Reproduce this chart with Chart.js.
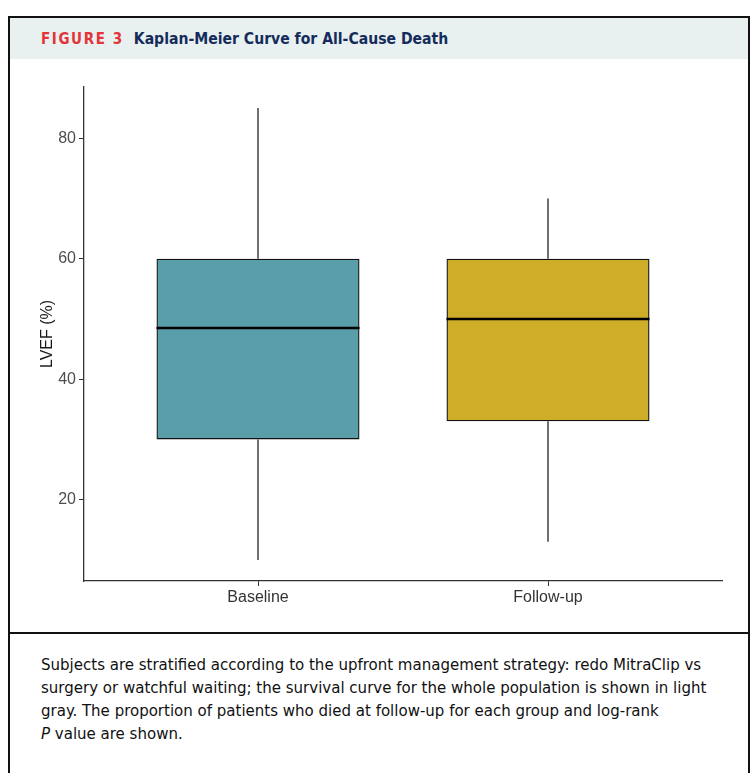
<!DOCTYPE html>
<html>
<head>
<meta charset="utf-8">
<script src="https://cdn.jsdelivr.net/npm/chart.js@4.4.1/dist/chart.umd.min.js"></script>
<style>
  body { margin: 0; background: #fff; }
  #frame {
    position: absolute; left: 8px; top: 16px; width: 738px; height: 780px;
    border: 2px solid #111; box-sizing: content-box;
  }
  #head {
    height: 41px; background: #e8f1f0;
    font-family: "Liberation Sans Narrow", "DejaVu Sans Condensed", sans-serif;
    font-weight: bold; line-height: 41px; padding-left: 31px; white-space: nowrap;
  }
  #head .fig { color: #e3343a; font-size: 15px; letter-spacing: 1.6px; margin-right: 10px; }
  #head .ttl { color: #152c5b; font-size: 15.6px; }
  #plot { position: absolute; left: 0; top: 42px; width: 738px; height: 572px; }
  #cap {
    position: absolute; left: 0; top: 614px; width: 738px; border-top: 2px solid #111;
    font-family: "Liberation Sans Narrow", "DejaVu Sans Condensed", sans-serif;
    font-size: 16.7px; line-height: 23px; color: #111; padding: 19px 14px 0 31px; box-sizing: border-box;
  }
</style>
</head>
<body>
<div id="frame">
  <div id="head"><span class="fig">FIGURE 3</span><span class="ttl">Kaplan-Meier Curve for All-Cause Death</span></div>
  <div id="plot"><canvas id="box-chart"></canvas></div>
  <div id="cap">Subjects are stratified according to the upfront management strategy: redo MitraClip vs surgery or watchful waiting; the survival curve for the whole population is shown in light gray. The proportion of patients who died at follow-up for each group and log-rank<br><i>P</i> value are shown.</div>
</div>
<script>
// Box plot data (LVEF %)
const groups = ["Baseline", "Follow-up"];
const lowWhisker = [10, 13];
const q1 = [30, 33];
const median = [48.5, 50];
const q3 = [60, 60];
const highWhisker = [85, 70];
const yTicks = [20, 40, 60, 80];
const boxColors = ["#5a9eaa", "#cead29"];
const boxWidth = 0.7;

const datasets = [];

// medians (first = drawn on top)
groups.forEach((g, i) => {
  datasets.push({
    type: 'line',
    data: [{ x: i + 1 - boxWidth / 2, y: median[i] }, { x: i + 1 + boxWidth / 2, y: median[i] }],
    borderColor: "#000", borderWidth: 2.6, pointRadius: 0, fill: false
  });
});

// whiskers
groups.forEach((g, i) => {
  datasets.push({
    type: 'line',
    data: [{ x: i + 1, y: lowWhisker[i] }, { x: i + 1, y: q1[i] }],
    borderColor: "#222", borderWidth: 1.3, pointRadius: 0, fill: false
  });
  datasets.push({
    type: 'line',
    data: [{ x: i + 1, y: q3[i] }, { x: i + 1, y: highWhisker[i] }],
    borderColor: "#222", borderWidth: 1.3, pointRadius: 0, fill: false
  });
});

// boxes
datasets.push({
  type: 'bar',
  data: groups.map((g, i) => ({ x: i + 1, y: [q1[i], q3[i]] })),
  backgroundColor: boxColors,
  borderColor: "#111",
  borderWidth: 1.4,
  borderSkipped: false,
  barPercentage: boxWidth,
  categoryPercentage: 1
});

new Chart(document.getElementById("box-chart"), {
  data: { datasets: datasets },
  options: {
    responsive: true,
    maintainAspectRatio: false,
    animation: false,
    layout: { padding: { left: 28, right: 26, top: 27, bottom: 0 } },
    plugins: { legend: { display: false }, tooltip: { enabled: false } },
    scales: {
      x: {
        type: 'linear',
        offset: false,
        min: 0.4, max: 2.6,
        afterBuildTicks: axis => { axis.ticks = groups.map((g, i) => ({ value: i + 1 })); },
        afterFit: axis => { axis.height = 51; },
        ticks: {
          callback: v => groups[v - 1],
          color: "#333", font: { family: "Liberation Sans, Arial, sans-serif", size: 16 }, padding: 2
        },
        grid: { offset: false, drawOnChartArea: false, drawTicks: true, tickLength: 5, tickColor: "#333" },
        border: { display: true, color: "#333", width: 1.3 }
      },
      y: {
        min: 6.5, max: 88.5,
        afterBuildTicks: axis => { axis.ticks = yTicks.map(v => ({ value: v })); },
        afterFit: axis => { axis.width = 46; },
        ticks: { color: "#4d4d4d", font: { family: "Liberation Sans, Arial, sans-serif", size: 16 }, padding: 3 },
        grid: { drawOnChartArea: false, drawTicks: true, tickLength: 5, tickColor: "#333" },
        border: { display: true, color: "#333", width: 1.3 },
        title: {
          display: true, text: "LVEF (%)", color: "#1a1a1a",
          font: { family: "Liberation Sans, Arial, sans-serif", size: 16 }, padding: { top: 0, bottom: 4 }
        }
      }
    }
  }
});
</script>
</body>
</html>
